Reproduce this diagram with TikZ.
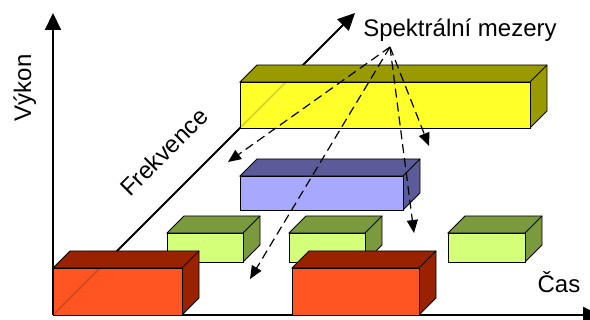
\documentclass[tikz,border=0pt]{standalone}
\usepackage{fontspec}
\setmainfont{Liberation Sans}
\usetikzlibrary{arrows.meta}
\definecolor{redF}{HTML}{FF5522}
\definecolor{redD}{HTML}{992200}
\definecolor{yelF}{HTML}{FFFF2A}
\definecolor{yelD}{HTML}{999900}
\definecolor{bluF}{HTML}{A8A8FF}
\definecolor{bluD}{HTML}{5B5B99}
\definecolor{grnF}{HTML}{D4FF78}
\definecolor{grnD}{HTML}{7B993D}
\tikzset{
  boxline/.style={draw=black, line width=0.9pt, line join=miter},
  axisline/.style={line width=2pt, -{Triangle[length=17pt,width=16pt]}},
  gapline/.style={dash pattern=on 9pt off 5pt, line width=1.2pt, -{Triangle[length=13pt,width=11pt]}},
  faint/.style={line width=2pt, draw=black, opacity=0.15},
  lbl/.style={font=\fontsize{24}{28}\selectfont, inner sep=0pt}
}
\newcommand\cuboid[6]{%
  \filldraw[boxline, fill=#6] (#1,#2) -- (#1+17,#2-17) -- (#3+17,#2-17) -- (#3+17,#4-17) -- (#3,#4) -- (#3,#2) -- cycle;
  \filldraw[boxline, fill=#5] (#1,#2) rectangle (#3,#4);
  \draw[boxline] (#3,#2) -- (#3+17,#2-17);
}
\begin{document}
\begin{tikzpicture}[x=1pt,y=-1pt]
\useasboundingbox (0,0) rectangle (590,320);
\coordinate (O) at (53,315);
\coordinate (Ytop) at (53,13);
\coordinate (Xend) at (600,315);
\coordinate (Fend) at (355,13);
% axes
\draw[axisline] (O) -- (Ytop);
\draw[axisline] (O) -- (Fend);
\draw[axisline] (O) -- (Xend);
% boxes, back to front
\cuboid{240}{82}{530}{128}{yelF}{yelD}
\cuboid{240}{176}{403}{210}{bluF}{bluD}
\cuboid{167}{233}{243}{262}{grnF}{grnD}
\cuboid{289}{233}{365}{262}{grnF}{grnD}
\cuboid{448}{233}{525}{262}{grnF}{grnD}
\cuboid{53}{268}{182}{315}{redF}{redD}
\cuboid{292}{268}{419}{315}{redF}{redD}
% axis seen through front faces
\coordinate (fa1) at (54,314);
\coordinate (fa2) at (100,268);
\coordinate (fb1) at (241,127);
\coordinate (fb2) at (286,82);
\draw[faint] (fa1) -- (fa2);
\draw[faint] (fb1) -- (fb2);
% labels
\node[lbl, anchor=base, rotate=90] (vykon) at (31,88) {Výkon};
\node[lbl, anchor=base, rotate=45] (frek) at (170,158) {Frekvence};
\node[lbl, anchor=base] (spek) at (460,37) {Spektrální mezery};
\node[lbl, anchor=base] (cas) at (559,293) {Čas};
% gap arrows
\coordinate (src) at (390,47);
\coordinate (g1) at (228,162);
\coordinate (g2) at (250,279);
\coordinate (g3) at (414,233);
\coordinate (g4) at (429,146);
\draw[gapline] (src) -- (g1);
\draw[gapline] (src) -- (g2);
\draw[gapline] (src) -- (g3);
\draw[gapline] (src) -- (g4);
\end{tikzpicture}
\end{document}
